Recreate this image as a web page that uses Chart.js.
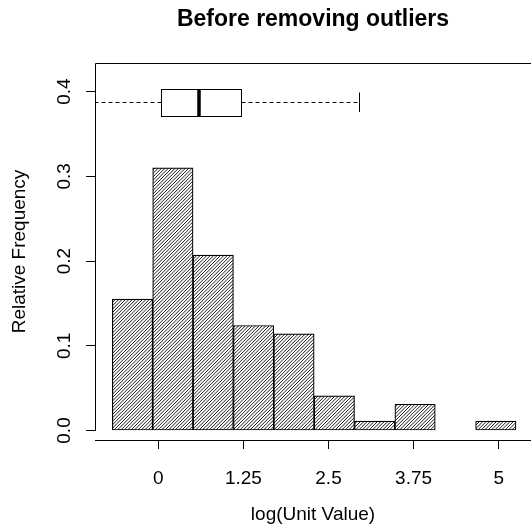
<!DOCTYPE html>
<html>
<head>
<meta charset="utf-8">
<script src="https://cdn.jsdelivr.net/npm/chart.js@4.4.0/dist/chart.umd.min.js"></script>
<style>
  html, body { margin: 0; padding: 0; background: #fff; }
  #wrap { width: 531px; height: 529px; }
</style>
</head>
<body>
<div id="wrap"><canvas id="chart" width="531" height="529"></canvas></div>
<script>
// histogram: bin centres and relative frequencies
var binCentres = [-0.379, 0.214, 0.807, 1.400, 1.993, 2.586, 3.179, 3.772, 4.365, 4.958];
var relFreq = [0.155, 0.310, 0.207, 0.124, 0.114, 0.041, 0.011, 0.031, 0, 0.011];
// boxplot: lower whisker, Q1, median, Q3, upper whisker
var boxStats = [-1.05, 0.035, 0.602, 1.219, 2.95];
var xTicks = [0, 1.25, 2.5, 3.75, 5];
var xTickLabels = ["0", "1.25", "2.5", "3.75", "5"];
var yTicks = [0, 0.1, 0.2, 0.3, 0.4];

var FONT = "'Liberation Sans', Arial, sans-serif";

function makeHatch() {
    var c = document.createElement("canvas");
    c.width = 17;
    c.height = 17;
    var g = c.getContext("2d");
    g.fillStyle = "#fff";
    g.fillRect(0, 0, 17, 17);
    g.strokeStyle = "#000";
    g.lineWidth = 0.9;
    for (var k = -1; k <= 11; k++) {
        var c0 = k * 3.4;
        g.beginPath();
        g.moveTo(c0 + 2, -2);
        g.lineTo(c0 - 19, 19);
        g.stroke();
    }
    return g.createPattern(c, "repeat");
}

var framePlugin = {
    id: "frame",
    afterDatasetsDraw: function (chart) {
        var ctx = chart.ctx, a = chart.chartArea;
        var x = chart.scales.x, y = chart.scales.y;
        ctx.save();
        ctx.strokeStyle = "#000";
        ctx.lineWidth = 1;
        // top and left frame lines
        ctx.beginPath();
        ctx.moveTo(a.right, a.top + 0.5);
        ctx.lineTo(a.left + 0.5, a.top + 0.5);
        ctx.lineTo(a.left + 0.5, y.getPixelForValue(0) + 0.5);
        ctx.stroke();

        // horizontal boxplot above the histogram
        ctx.beginPath();
        ctx.rect(a.left + 1, a.top, a.right - a.left, a.bottom - a.top);
        ctx.clip();
        var yc = Math.round(y.getPixelForValue(0.3875)) + 0.5;
        var yTop = Math.round(y.getPixelForValue(0.4032)) + 0.5;
        var yBot = Math.round(y.getPixelForValue(0.3717)) + 0.5;
        var sTop = y.getPixelForValue(0.3990), sBot = y.getPixelForValue(0.3760);
        var px = boxStats.map(function (v) { return Math.round(x.getPixelForValue(v)) + 0.5; });

        ctx.setLineDash([4, 3]);
        ctx.beginPath();
        ctx.moveTo(px[0], yc);
        ctx.lineTo(px[1], yc);
        ctx.moveTo(px[3], yc);
        ctx.lineTo(px[4], yc);
        ctx.stroke();
        ctx.setLineDash([]);

        ctx.beginPath();
        ctx.moveTo(px[0], sTop);
        ctx.lineTo(px[0], sBot);
        ctx.moveTo(px[4], sTop);
        ctx.lineTo(px[4], sBot);
        ctx.stroke();

        ctx.fillStyle = "#fff";
        ctx.fillRect(px[1], yTop, px[3] - px[1], yBot - yTop);
        ctx.strokeRect(px[1], yTop, px[3] - px[1], yBot - yTop);

        ctx.lineWidth = 3.5;
        ctx.beginPath();
        ctx.moveTo(px[2] - 0.5, yTop);
        ctx.lineTo(px[2] - 0.5, yBot);
        ctx.stroke();
        ctx.restore();
    }
};

var points = binCentres.map(function (c, i) { return {x: c, y: relFreq[i]}; });

new Chart(document.getElementById("chart"), {
    type: "bar",
    data: {
        datasets: [{
            data: points,
            backgroundColor: makeHatch(),
            borderColor: "#000",
            borderWidth: 1.2,
            borderSkipped: false,
            barPercentage: 1.0,
            categoryPercentage: 1.0
        }]
    },
    options: {
        responsive: false,
        animation: false,
        events: [],
        layout: { padding: 0 },
        plugins: {
            legend: { display: false },
            tooltip: { enabled: false },
            title: {
                display: true,
                text: "Before removing outliers",
                color: "#000",
                fullSize: false,
                font: { family: FONT, size: 23, weight: "bold", lineHeight: 1.2 },
                padding: { top: 6, bottom: 29.4 }
            }
        },
        scales: {
            x: {
                type: "linear",
                min: -0.93,
                max: 5.475,
                offset: false,
                afterBuildTicks: function (s) {
                    s.ticks = xTicks.map(function (v) { return {value: v}; });
                },
                afterFit: function (s) { s.height = 89; },
                grid: {
                    drawOnChartArea: false,
                    drawTicks: true,
                    tickLength: 9,
                    tickWidth: 1,
                    tickColor: "#000",
                    offset: false
                },
                border: { display: true, color: "#000", width: 1 },
                ticks: {
                    color: "#000",
                    font: { family: FONT, size: 19 },
                    padding: 18,
                    maxRotation: 0,
                    autoSkip: false,
                    callback: function (v, i) { return xTickLabels[i]; }
                },
                title: {
                    display: true,
                    text: "log(Unit Value)",
                    color: "#000",
                    font: { family: FONT, size: 19, lineHeight: 1.2 },
                    padding: { top: 0, bottom: 3 }
                }
            },
            y: {
                type: "linear",
                min: -0.0112,
                max: 0.4338,
                afterBuildTicks: function (s) {
                    s.ticks = yTicks.map(function (v) { return {value: v}; });
                },
                afterFit: function (s) { s.width = 95; },
                grid: {
                    drawOnChartArea: false,
                    drawTicks: true,
                    tickLength: 9,
                    tickWidth: 1,
                    tickColor: "#000"
                },
                border: { display: false },
                ticks: {
                    color: "#000",
                    font: { family: FONT, size: 19 },
                    minRotation: 90,
                    maxRotation: 90,
                    crossAlign: "center",
                    padding: 8,
                    autoSkip: false,
                    callback: function (v) { return v.toFixed(1); }
                },
                title: {
                    display: true,
                    text: "Relative Frequency",
                    color: "#000",
                    font: { family: FONT, size: 19, lineHeight: 1.2 },
                    padding: { top: 8, bottom: 0 }
                }
            }
        }
    },
    plugins: [framePlugin]
});
</script>
</body>
</html>
